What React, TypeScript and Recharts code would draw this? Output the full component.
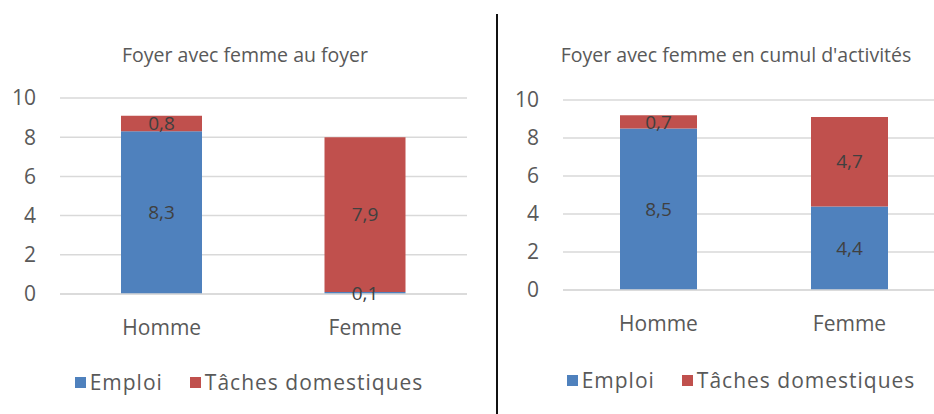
import React from 'react'
import { BarChart, Bar, XAxis, YAxis, CartesianGrid, Legend, LabelList } from 'recharts'

const categories = ['Homme', 'Femme']
const emploiAuFoyer = [8.3, 0.1]
const tachesAuFoyer = [0.8, 7.9]
const emploiCumul = [8.5, 4.4]
const tachesCumul = [0.7, 4.7]
const yTicks = [0, 2, 4, 6, 8, 10]

const BLUE = '#4F81BD'
const RED = '#C0504D'
const FONT = '"Open Sans", sans-serif'

const toRows = (emploi: number[], taches: number[]) =>
  categories.map((name, i) => ({ name, emploi: emploi[i], taches: taches[i] }))

const fmt = (v: any) => String(v).replace('.', ',')

type PanelProps = {
  title: string
  emploi: number[]
  taches: number[]
  left: number
  boxWidth: number
  chartWidth: number
  titleCenter: number
  legendCenter: number
  top: number
  plotH: number
  bottom: number
  yWidth: number
  barSize: number
}

function Panel(p: PanelProps) {
  const data = toRows(p.emploi, p.taches)
  const legendH = 36
  const xH = 414 - p.top - p.plotH - p.bottom - legendH
  return (
    <div style={{ position: 'absolute', left: p.left, top: 0, width: p.boxWidth, height: 414, overflow: 'hidden' }}>
      <div style={{
        position: 'absolute', top: 41, left: p.titleCenter - 250, width: 500, lineHeight: '28px',
        textAlign: 'center', fontFamily: FONT, fontSize: 19.5, color: '#595959',
      }}>
        {p.title}
      </div>
      <BarChart
        width={p.chartWidth}
        height={414}
        data={data}
        margin={{ top: p.top, right: 0, left: 10, bottom: p.bottom }}
        barSize={p.barSize}
      >
        <CartesianGrid vertical={false} stroke="#d9d9d9" strokeWidth={1.5} />
        <XAxis
          dataKey="name"
          height={xH}
          axisLine={{ stroke: '#d9d9d9', strokeWidth: 1.5 }}
          tickLine={false}
          tickMargin={20}
          tick={{ fontSize: 21, fill: '#595959', fontFamily: FONT }}
        />
        <YAxis
          width={p.yWidth}
          domain={[0, 10]}
          ticks={yTicks}
          axisLine={false}
          tickLine={false}
          tickMargin={18}
          tick={{ fontSize: 21, fill: '#595959', fontFamily: FONT }}
        />
        <Legend
          verticalAlign="bottom"
          wrapperStyle={{ left: 0, width: p.chartWidth }}
          content={() => (
            <div style={{ height: legendH, position: 'relative', fontFamily: FONT, fontSize: 21, letterSpacing: 1, color: '#595959' }}>
              <div style={{
                position: 'absolute', left: p.legendCenter - 250, width: 500, top: 0, height: legendH,
                display: 'flex', justifyContent: 'center', alignItems: 'center', gap: 27,
              }}>
                <span style={{ display: 'flex', alignItems: 'center' }}>
                  <span style={{ width: 11, height: 11, background: BLUE, marginRight: 4 }} />Emploi
                </span>
                <span style={{ display: 'flex', alignItems: 'center' }}>
                  <span style={{ width: 11, height: 11, background: RED, marginRight: 4 }} />Tâches domestiques
                </span>
              </div>
            </div>
          )}
        />
        <Bar dataKey="emploi" name="Emploi" stackId="a" fill={BLUE} isAnimationActive={false}>
          <LabelList dataKey="emploi" position="center" formatter={fmt}
            style={{ fontSize: 19, fill: '#404040', fontFamily: FONT }} />
        </Bar>
        <Bar dataKey="taches" name="Tâches domestiques" stackId="a" fill={RED} isAnimationActive={false}>
          <LabelList dataKey="taches" position="center" formatter={fmt}
            style={{ fontSize: 19, fill: '#404040', fontFamily: FONT }} />
        </Bar>
      </BarChart>
    </div>
  )
}

export default function App() {
  return (
    <div style={{ position: 'absolute', left: 0, top: 0, width: 934, height: 414, background: '#fff' }}>
      <Panel
        title="Foyer avec femme au foyer"
        emploi={emploiAuFoyer}
        taches={tachesAuFoyer}
        left={0}
        boxWidth={490}
        chartWidth={467}
        titleCenter={245}
        legendCenter={249}
        top={98}
        plotH={196}
        bottom={14}
        yWidth={50}
        barSize={81}
      />
      <div style={{ position: 'absolute', left: 496, top: 14, width: 2, height: 400, background: '#111' }} />
      <Panel
        title="Foyer avec femme en cumul d'activités"
        emploi={emploiCumul}
        taches={tachesCumul}
        left={499}
        boxWidth={435}
        chartWidth={446}
        titleCenter={237}
        legendCenter={242}
        top={100}
        plotH={190}
        bottom={16}
        yWidth={54}
        barSize={77}
      />
    </div>
  )
}
